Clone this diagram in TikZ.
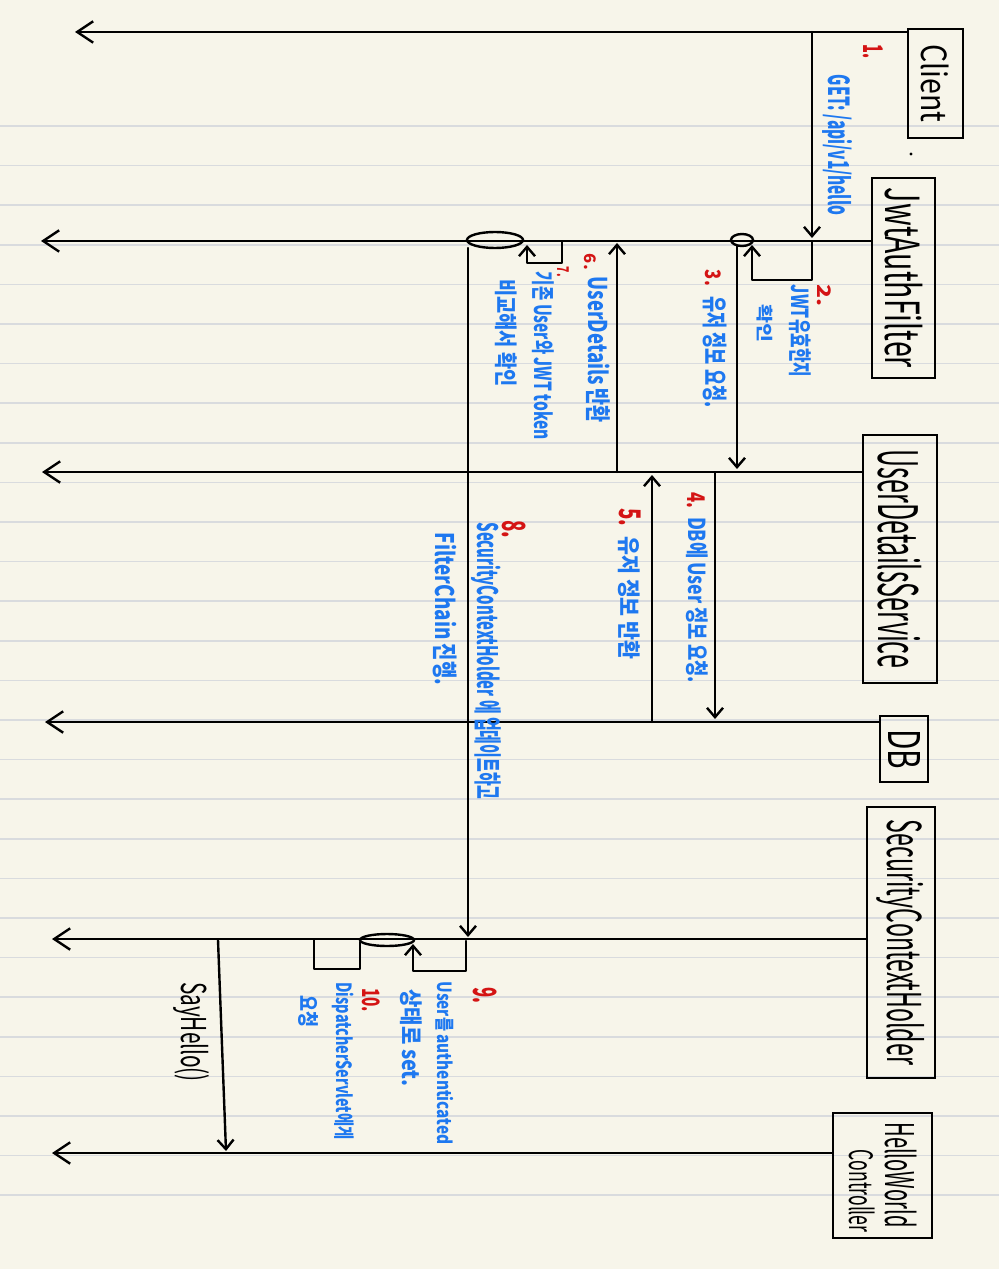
\documentclass[tikz,border=0pt]{standalone}
\usepackage{fontspec}
\setmainfont{Noto Sans CJK KR}
\usetikzlibrary{arrows.meta,shapes.geometric}
\newlength\pxu \setlength\pxu{0.75pt}
\newcommand\hw[3]{\resizebox*{#1\pxu}{#2\pxu}{#3}}
\definecolor{paper}{HTML}{F7F5EA}
\definecolor{rule}{HTML}{D9DBDE}
\definecolor{inkblue}{HTML}{1E78F0}
\definecolor{inkred}{HTML}{D41414}
\tikzset{
  ink/.style={line width=1.8pt, black, line cap=round, line join=round},
  life/.style={ink, -{Straight Barb[length=12pt,width=16pt]}},
  msg/.style={ink, -{Straight Barb[length=7pt,width=12pt]}},
  loopline/.style={ink},
  part/.style={draw, line width=1.8pt, rotate=-90, inner sep=0pt, text=black},
  act/.style={draw, ellipse, line width=1.8pt, inner sep=0pt},
  lbl/.style={rotate=-90, text=inkblue, inner sep=0pt, font=\bfseries},
  numlbl/.style={rotate=-90, text=inkred, inner sep=0pt, font=\bfseries},
  blk/.style={rotate=-90, text=black, inner sep=0pt},
}
\begin{document}
\begin{tikzpicture}[x=0.75pt,y=-0.75pt]
% paper
\fill[paper] (0,0) rectangle (999,1269);
\useasboundingbox (0,0) rectangle (999,1269);
\foreach \k in {0,...,27} {
  \draw[rule, line width=1.1pt] (0,{126+39.6*\k}) -- (999,{126+39.6*\k});
}
% participants
\node[part, minimum width=109\pxu, minimum height=55\pxu] (client) at (935.5,83.5) {\hw{78}{28}{Client}};
\node[part, minimum width=200\pxu, minimum height=63\pxu] (jwt) at (903.5,278) {\hw{180}{38}{JwtAuthFilter}};
\node[part, minimum width=248\pxu, minimum height=74\pxu] (uds) at (900,559) {\hw{218}{44}{UserDetailsService}};
\node[part, minimum width=66\pxu, minimum height=48\pxu] (db) at (904,749) {\hw{40}{32}{DB}};
\node[part, minimum width=271\pxu, minimum height=68\pxu] (sch) at (901,942.5) {\hw{245}{48}{SecurityContextHolder}};
\node[part, minimum width=125\pxu, minimum height=99\pxu] (hwc) at (882.5,1175.5) {};
\node[blk] (hwcA) at (901,1175) {\hw{105}{32}{HelloWorld}};
\node[blk] (hwcB) at (862,1191) {\hw{83}{26}{Controller}};
\node[circle, fill=black, inner sep=0.9pt] (dot) at (911,154) {};
% lifeline ends
\coordinate (clientZ) at (75,32);
\coordinate (jwtZ) at (41,241);
\coordinate (udsZ) at (42,472);
\coordinate (dbZ) at (45,722);
\coordinate (schZ) at (52,939);
\coordinate (hwcZ) at (52,1153);
\draw[life] (client.south |- 0,32) -- (clientZ);
\draw[life] (jwt.south |- 0,241) -- (jwtZ);
\draw[life] (uds.south |- 0,472) -- (udsZ);
\draw[life] (db.south |- 0,722) -- (dbZ);
\draw[life] (sch.south |- 0,939) -- (schZ);
\draw[life] (hwc.south |- 0,1153) -- (hwcZ);
% activations
\node[act, minimum width=22\pxu, minimum height=12\pxu] (e1) at (742,240) {};
\node[act, minimum width=56\pxu, minimum height=16\pxu] (e2) at (495,240) {};
\node[act, minimum width=54\pxu, minimum height=12\pxu] (e3) at (387,940) {};
% 1
\coordinate (m1a) at (812,32); \coordinate (m1b) at (812,238);
\draw[msg] (m1a) -- (m1b);
\node[numlbl] (n1) at (873,52) {\hw{14}{20}{1.}};
\node[lbl] (t1) at (838,145) {\hw{140}{30}{GET: /api/v1/hello}};
% 2
\coordinate (m2a) at (812,242); \coordinate (m2b) at (812,280);
\coordinate (m2c) at (752,280); \coordinate (m2d) at (752,245);
\draw[msg] (m2a) -- (m2b) -- (m2c) -- (m2d);
\node[numlbl] (n2) at (824,296) {\hw{22}{14}{2.}};
\node[lbl] (t2a) at (800,331) {\hw{92}{22}{JWT유효한지}};
\node[lbl] (t2b) at (765,324) {\hw{38}{16}{확인}};
% 3
\coordinate (m3a) at (737,246); \coordinate (m3b) at (737,469);
\draw[msg] (m3a) -- (m3b);
\node[numlbl] (n3) at (713,278) {\hw{16}{16}{3.}};
\node[lbl] (t3) at (715,352) {\hw{111}{24}{유저 정보 요청.}};
% 4
\coordinate (m4a) at (715,473); \coordinate (m4b) at (715,719);
\draw[msg] (m4a) -- (m4b);
\node[numlbl] (n4) at (696,500) {\hw{16}{18}{4.}};
\node[lbl] (t4) at (697,600) {\hw{166}{22}{DB에 User 정보 요청.}};
% 5
\coordinate (m5a) at (652,722); \coordinate (m5b) at (652,475);
\draw[msg] (m5a) -- (m5b);
\node[numlbl] (n5) at (630,517) {\hw{18}{22}{5.}};
\node[lbl] (t5) at (629,598) {\hw{123}{22}{유저 정보 반환}};
% 6
\coordinate (m6a) at (617,472); \coordinate (m6b) at (617,243);
\draw[msg] (m6a) -- (m6b);
\node[numlbl] (n6) at (590,262) {\hw{16}{12}{6.}};
\node[lbl] (t6) at (598,350) {\hw{146}{24}{UserDetails 반환}};
% 7
\coordinate (m7a) at (562,242); \coordinate (m7b) at (562,263);
\coordinate (m7c) at (527,263); \coordinate (m7d) at (527,245);
\draw[msg] (m7a) -- (m7b) -- (m7c) -- (m7d);
\node[numlbl] (n7) at (563,272) {\hw{10}{12}{7.}};
\node[lbl] (t7a) at (543,356) {\hw{168}{22}{기존 User와 JWT token}};
\node[lbl] (t7b) at (506,333) {\hw{107}{22}{비교해서 확인}};
% 8
\coordinate (m8a) at (468,248); \coordinate (m8b) at (468,937);
\draw[msg] (m8a) -- (m8b);
\node[numlbl] (n8) at (514,529) {\hw{18}{24}{8.}};
\node[lbl] (t8a) at (486,661) {\hw{277}{30}{SecurityContextHolder 에 업데이트하고}};
\node[lbl] (t8b) at (445,609) {\hw{152}{24}{FilterChain 진행.}};
% 9
\coordinate (m9a) at (466,941); \coordinate (m9b) at (466,971);
\coordinate (m9c) at (413,971); \coordinate (m9d) at (413,944);
\draw[msg] (m9a) -- (m9b) -- (m9c) -- (m9d);
\node[numlbl] (n9) at (485,995) {\hw{16}{24}{9.}};
\node[lbl] (t9a) at (445,1063) {\hw{163}{18}{User를 authenticated}};
\node[lbl] (t9b) at (411,1038) {\hw{97}{22}{상태로 set.}};
% 10
\coordinate (m10a) at (360,942); \coordinate (m10b) at (360,969);
\coordinate (m10c) at (314,969); \coordinate (m10d) at (314,940);
\draw[loopline] (m10a) -- (m10b) -- (m10c) -- (m10d);
\node[numlbl] (n10) at (371,1000) {\hw{24}{18}{10.}};
\node[lbl] (t10a) at (343,1061) {\hw{157}{22}{DispatcherServlet에게}};
\node[lbl] (t10b) at (308,1011) {\hw{32}{20}{요청}};
% SayHello
\coordinate (s1a) at (218,940); \coordinate (s1b) at (226,1151);
\draw[msg] (s1a) -- (s1b);
\node[blk] (ts) at (191,1032) {\hw{100}{36}{SayHello()}};
\end{tikzpicture}
\end{document}
